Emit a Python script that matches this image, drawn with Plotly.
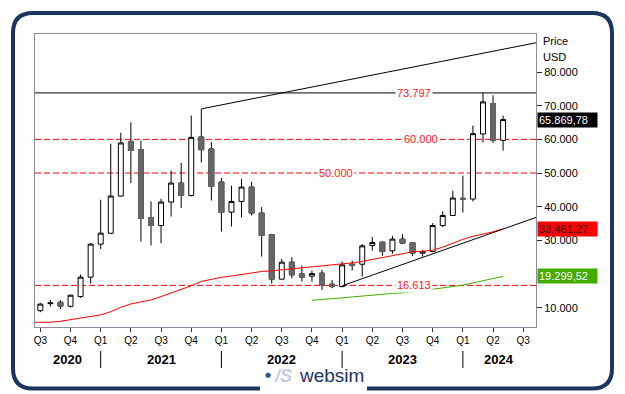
import plotly.graph_objects as go

# ---------------- data ----------------
months = ["2020-07", "2020-08", "2020-09", "2020-10", "2020-11", "2020-12",
          "2021-01", "2021-02", "2021-03", "2021-04", "2021-05", "2021-06",
          "2021-07", "2021-08", "2021-09", "2021-10", "2021-11", "2021-12",
          "2022-01", "2022-02", "2022-03", "2022-04", "2022-05", "2022-06",
          "2022-07", "2022-08", "2022-09", "2022-10", "2022-11", "2022-12",
          "2023-01", "2023-02", "2023-03", "2023-04", "2023-05", "2023-06",
          "2023-07", "2023-08", "2023-09", "2023-10", "2023-11", "2023-12",
          "2024-01", "2024-02", "2024-03", "2024-04", "2024-05"]

opens = [9100, 11200, 11600, 10400, 13300, 19050,
         28870, 32100, 43150, 59400, 56930, 36790,
         34410, 41370, 47020, 43330, 60710, 57140,
         47320, 38390, 41550, 45830, 38090, 31640,
         18460, 23510, 20030, 19350, 20240, 16970,
         16250, 22900, 22900, 28450, 29470, 26880,
         30360, 29350, 26190, 26660, 34410, 37380,
         42500, 42260, 61600, 70620, 59700]
highs = [11450, 12300, 12300, 13800, 19850, 29200,
         42050, 58700, 61990, 65060, 59610, 41550,
         42350, 50680, 52980, 67050, 69050, 59230,
         48510, 46220, 48300, 47320, 39880, 31940,
         24500, 25000, 22500, 21010, 21220, 18250,
         23690, 24000, 28870, 30950, 29600, 31340,
         31850, 29500, 27170, 35120, 38570, 44730,
         49200, 64080, 73797, 73090, 67050]
lows = [8650, 10300, 9550, 10050, 12900, 17150,
        27400, 31850, 43000, 47020, 29640, 28450,
        29170, 37080, 39580, 43040, 53150, 41850,
        32620, 34110, 36790, 37380, 25180, 17150,
        18300, 18750, 17740, 17740, 15270, 15780,
        16100, 21010, 19230, 26960, 25390, 25990,
        28870, 25390, 25180, 26500, 33930, 37200,
        38270, 41550, 59110, 58930, 56640]
closes = [11050, 11400, 10450, 13700, 19050, 28870,
          32140, 43150, 58930, 56700, 36490, 34410,
          41370, 47020, 43330, 60590, 56930, 46010,
          38270, 41550, 45830, 38090, 31430, 18460,
          23510, 19730, 19050, 20120, 16760, 16250,
          22710, 22500, 28360, 29350, 26660, 30360,
          29170, 26190, 26660, 34410, 37380, 42560,
          42250, 61690, 71130, 59700, 65869.78]

# red moving average (starts one month before the first candle)
ma_red = [5640, 5640, 5660, 5950, 6400, 6850, 7330,
          7850, 8800, 10100, 11100, 11700, 12300,
          13300, 14300, 15300, 16500, 17800, 18500,
          19000, 19400, 19900, 20300, 20750, 20950,
          21250, 21550, 21700, 22000, 22330, 22560,
          22920, 23300, 23750, 24350, 24940, 25540,
          26130, 26580, 26740, 27070, 27970, 29170,
          30300, 31190, 31850, 32530, 33461.27]
ma_red_start = -1

# green moving average (starts Oct 2022)
ma_green = [12200, 12380, 12590, 12890, 13190, 13480, 13780,
            14020, 14200, 14380, 14680, 14970, 15480, 15870,
            16170, 16670, 17350, 18040, 18630, 19299.52]
ma_green_start = 27

# trend lines (month index, value)
upper_trend_x = [16, 49.27]
upper_trend_y = [69050, 88700]
lower_trend_x = [30, 49.27]
lower_trend_y = [16500, 36800]

resistance = 73797
dashed_levels = [60000, 50000, 16613]
level_label_pos = {73797: 37.1, 60000: 37.8, 50000: 29.4, 16613: 37.1}

quarter_labels = ["Q3", "Q4", "Q1", "Q2", "Q3", "Q4", "Q1", "Q2", "Q3",
                  "Q4", "Q1", "Q2", "Q3", "Q4", "Q1", "Q2", "Q3"]
years = ["2020", "2021", "2022", "2023", "2024"]
y_ticks = [10000, 30000, 40000, 50000, 60000, 70000, 80000]

# ---------------- layout geometry ----------------
FW, FH = 625, 394
L, R, T, B = 35, 536, 34, 327
PW, PH = R - L, B - T
XR = [-0.53, 49.27]
YR = [4250, 91300]
FONT = "Liberation Sans, Arial, sans-serif"


def pxx(px):
    return (px - L) / PW


def pxy(py):
    return (B - py) / PH


def de(v, dec=0):
    s = f"{v:,.{dec}f}"
    return s.replace(",", "#").replace(".", ",").replace("#", ".")


xs = list(range(len(months)))
fig = go.Figure()

fig.add_trace(go.Candlestick(
    x=xs, open=opens, high=highs, low=lows, close=closes,
    increasing=dict(line=dict(color="black", width=1), fillcolor="white"),
    decreasing=dict(line=dict(color="black", width=1), fillcolor="#666666"),
    whiskerwidth=0, showlegend=False, hoverinfo="skip"))

# grey bodies for falling candles (covers the black outline)
dx, do, dc = [], [], []
for i, (o, c) in enumerate(zip(opens, closes)):
    if c < o:
        dx.append(i); do.append(o); dc.append(c)
fig.add_trace(go.Candlestick(
    x=dx, open=do, close=dc, high=do, low=dc,
    increasing=dict(line=dict(color="#666666", width=1), fillcolor="#666666"),
    decreasing=dict(line=dict(color="#666666", width=1), fillcolor="#666666"),
    whiskerwidth=0, showlegend=False, hoverinfo="skip"))

fig.add_trace(go.Scatter(
    x=list(range(ma_red_start, ma_red_start + len(ma_red))), y=ma_red,
    mode="lines", line=dict(color="#ff0000", width=1), showlegend=False, hoverinfo="skip"))
fig.add_trace(go.Scatter(
    x=list(range(ma_green_start, ma_green_start + len(ma_green))), y=ma_green,
    mode="lines", line=dict(color="#44aa00", width=1), showlegend=False, hoverinfo="skip"))
fig.add_trace(go.Scatter(x=upper_trend_x, y=upper_trend_y, mode="lines",
                         line=dict(color="black", width=1), showlegend=False, hoverinfo="skip"))
fig.add_trace(go.Scatter(x=lower_trend_x, y=lower_trend_y, mode="lines",
                         line=dict(color="black", width=1), showlegend=False, hoverinfo="skip"))

shapes = []
annotations = []

# resistance line
shapes.append(dict(type="line", xref="paper", x0=0, x1=1, yref="y", y0=resistance, y1=resistance,
                   line=dict(color="black", width=1), layer="below"))
for lv in dashed_levels:
    shapes.append(dict(type="line", xref="paper", x0=0, x1=1, yref="y", y0=lv, y1=lv,
                       line=dict(color="#ff0000", width=1, dash="6px,3px"), layer="below"))
for lv in [resistance] + dashed_levels:
    annotations.append(dict(x=level_label_pos[lv], y=lv, xref="x", yref="y", text=de(lv),
                            showarrow=False, bgcolor="white", borderpad=1,
                            font=dict(family=FONT, size=11, color="#ff2020")))

# value boxes on the right
boxes = [(closes[-1], "black", "white"),
         (ma_red[-1], "#ff0000", "#3a0000"),
         (ma_green[-1], "#44aa00", "white")]
for v, bg, fc in boxes:
    annotations.append(dict(x=pxx(537), y=v, xref="paper", yref="y", xanchor="left", yanchor="middle",
                            text=de(v, 2), showarrow=False, bgcolor=bg, borderpad=1, width=57, align="left",
                            font=dict(family=FONT, size=11, color=fc)))

annotations.append(dict(x=pxx(541), y=pxy(41), xref="paper", yref="paper", xanchor="left", yanchor="middle",
                        text="Price", showarrow=False, font=dict(family=FONT, size=11, color="black")))
annotations.append(dict(x=pxx(541), y=pxy(57), xref="paper", yref="paper", xanchor="left", yanchor="middle",
                        text="USD", showarrow=False, font=dict(family=FONT, size=11, color="black")))

# years and separators
for k, yr in enumerate(years):
    jan = 6 + 12 * (k - 1)
    a = max(jan, XR[0])
    b = min(jan + 12, XR[1])
    annotations.append(dict(x=(a + b) / 2, y=pxy(359), xref="x", yref="paper", yanchor="middle",
                            text=f"<b>{yr}</b>", showarrow=False,
                            font=dict(family=FONT, size=13, color="black")))
    if k > 0:
        shapes.append(dict(type="line", xref="x", x0=jan, x1=jan, yref="paper", y0=pxy(351), y1=pxy(368),
                           line=dict(color="black", width=1)))

# outer frame
fx0, fx1, fy0, fy1, r = 13, 612, 13, 388.5, 20
pts = [("M", fx0 + r, fy0), ("L", fx1 - r, fy0), ("Q", fx1, fy0, fx1, fy0 + r),
       ("L", fx1, fy1 - r), ("Q", fx1, fy1, fx1 - r, fy1), ("L", fx0 + r, fy1),
       ("Q", fx0, fy1, fx0, fy1 - r), ("L", fx0, fy0 + r), ("Q", fx0, fy0, fx0 + r, fy0)]
path = ""
for p in pts:
    seg = p[0]
    coords = p[1:]
    for j in range(0, len(coords), 2):
        seg += f" {pxx(coords[j]):.5f},{pxy(coords[j + 1]):.5f}"
    path += seg + " "
path += "Z"
shapes.append(dict(type="path", xref="paper", yref="paper", path=path,
                   line=dict(color="#1b355f", width=4), layer="above"))
shapes.append(dict(type="rect", xref="paper", yref="paper", x0=pxx(260), x1=pxx(367),
                   y0=pxy(394), y1=pxy(382), fillcolor="white", line=dict(width=0), layer="above"))

# logo
annotations.append(dict(x=pxx(268), y=pxy(381), xref="paper", yref="paper", text="●", showarrow=False,
                        font=dict(size=7, color="#3a5580", family="DejaVu Sans")))
annotations.append(dict(x=pxx(283), y=pxy(388), xref="paper", yref="paper", text="<b><i>/S</i></b>",
                        showarrow=False, font=dict(size=18, color="#c3cde0", family=FONT)))
annotations.append(dict(x=pxx(331), y=pxy(388), xref="paper", yref="paper", text="websim", showarrow=False,
                        font=dict(size=19, color="#1b355f", family=FONT)))

fig.update_layout(
    width=FW, height=FH,
    margin=dict(l=L, r=FW - R, t=T, b=FH - B, pad=0),
    paper_bgcolor="white", plot_bgcolor="white",
    separators=",.",
    showlegend=False,
    shapes=shapes, annotations=annotations,
    xaxis=dict(range=XR, tickvals=list(range(0, 49, 3)), ticktext=quarter_labels,
               ticks="outside", ticklen=4, tickcolor="#333333", showgrid=False, zeroline=False,
               showline=True, linecolor="#8c8c9c", linewidth=1, mirror=True,
               rangeslider=dict(visible=False),
               tickfont=dict(family=FONT, size=10, color="black")),
    yaxis=dict(range=YR, side="right", tickvals=y_ticks, tickformat=",d",
               ticks="outside", ticklen=5, tickcolor="#333333", showgrid=False, zeroline=False,
               showline=True, linecolor="#8c8c9c", linewidth=1, mirror=True,
               tickfont=dict(family=FONT, size=11, color="black")),
)

fig.write_html("out.html", config={"displayModeBar": False},
               post_script="document.body.style.margin='0';document.body.style.overflow='hidden';")
